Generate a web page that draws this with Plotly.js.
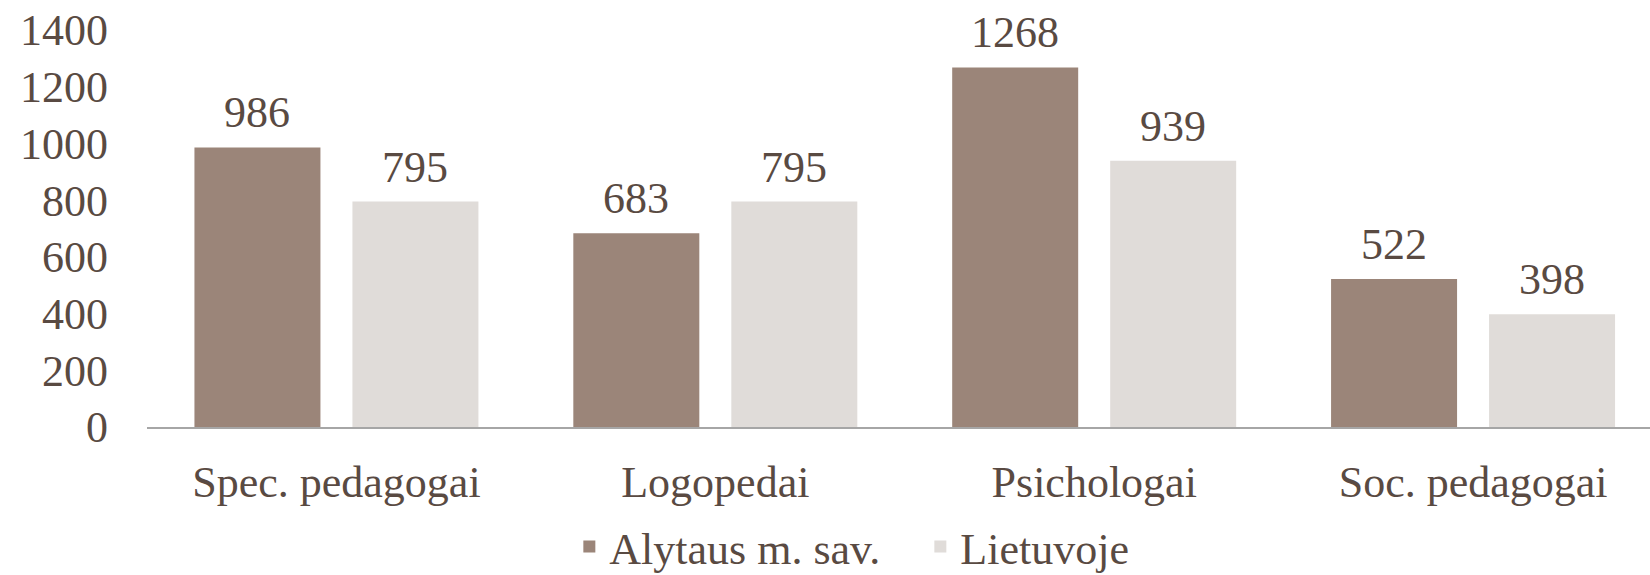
<!DOCTYPE html>
<html>
<head>
<meta charset="utf-8">
<script src="https://cdn.plot.ly/plotly-3.0.1.min.js"></script>
<style>html,body{margin:0;padding:0;background:#fff;}#chart{width:1650px;height:575px;}</style>
</head>
<body>
<div id="chart"></div>
<script>
const categories = ["Spec. pedagogai", "Logopedai", "Psichologai", "Soc. pedagogai"];
const alytus = [986, 683, 1268, 522];
const lietuva = [795, 795, 939, 398];
const seriesNames = ["Alytaus m. sav.", "Lietuvoje"];
const yTicks = [0, 200, 400, 600, 800, 1000, 1200, 1400];

const textColor = "#594a42";
const fontFam = "Liberation Serif, serif";
const bargap = 0.166;
const bargroupgap = 0.2025;

const traces = [
  {type: "bar", name: seriesNames[0], x: categories, y: alytus,
   marker: {color: "#9b8579"}, hoverinfo: "none"},
  {type: "bar", name: seriesNames[1], x: categories, y: lietuva,
   marker: {color: "#e0dcd9"}, hoverinfo: "none"}
];

// value labels placed above each bar, at the centre of its slot in the group
const series = [alytus, lietuva];
const slot = (1 - bargap) / series.length;
const annotations = [];
series.forEach((vals, t) => {
  vals.forEach((v, i) => {
    annotations.push({
      x: i + (t - (series.length - 1) / 2) * slot, y: v, xref: "x", yref: "y",
      text: String(v), showarrow: false, xanchor: "center", yanchor: "bottom", yshift: 8,
      font: {size: 44, color: textColor, family: fontFam}
    });
  });
});

const layout = {
  width: 1650, height: 575,
  margin: {l: 147, r: 0, t: 30, b: 147.5, autoexpand: false},
  paper_bgcolor: "#ffffff", plot_bgcolor: "#ffffff",
  font: {family: fontFam, size: 44, color: textColor},
  barmode: "group", bargap: bargap, bargroupgap: bargroupgap,
  showlegend: true,
  annotations: annotations,
  legend: {orientation: "h", x: 0.281, xanchor: "left", yref: "container", y: 0.049, yanchor: "middle",
           bgcolor: "rgba(0,0,0,0)",
           font: {size: 44, color: textColor, family: fontFam}, entrywidth: 306, entrywidthmode: "pixels",
           traceorder: "normal"},
  xaxis: {type: "category", range: [-0.5, 3.467], showline: true, linecolor: "#a6a6a6", linewidth: 2,
          ticks: "", showgrid: false, zeroline: false, ticklabelstandoff: 15,
          tickfont: {size: 44, color: textColor, family: fontFam}},
  yaxis: {range: [0, 1400], tickvals: yTicks, ticktext: yTicks.map(String), showgrid: false,
          zeroline: false, showline: false, ticks: "", ticklabelstandoff: 38,
          tickfont: {size: 44, color: textColor, family: fontFam}}
};

Plotly.newPlot("chart", traces, layout, {displayModeBar: false, staticPlot: true});
</script>
</body>
</html>
